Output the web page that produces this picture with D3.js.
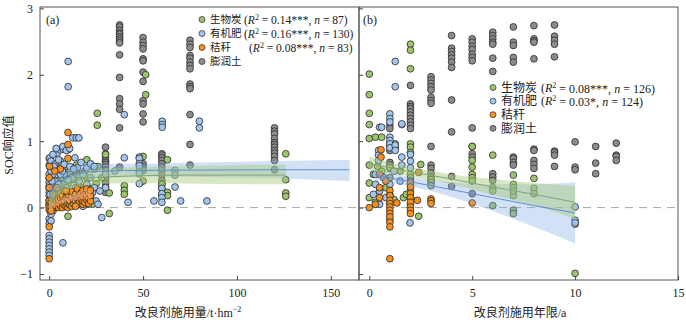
<!DOCTYPE html>
<html>
<head>
<meta charset="utf-8">
<script src="https://cdn.jsdelivr.net/npm/d3@7"></script>
<style>
  body { margin: 0; background: #fff; }
  svg text { font-family: "Liberation Serif", "Noto Sans CJK SC", serif; fill: #222; }
</style>
</head>
<body>
<div id="chart"></div>
<script>
// ---- data ----
const bentoniteA = [
  [30,0.91],[30,0.81],[30,0.76],[30,0.71],[30,0.68],[30,0.65],[30,0.61],[30,0.56],[30,0.49],[30,0.44],[30,0.41],[30,0.36],[30,0.31],[30,0.23],
  [37.5,2.75],[37.5,2.72],[37.5,2.67],[37.5,2.63],[37.5,2.61],[37.5,2.57],[37.5,2.54],[37.5,2.51],[37.5,2.48],[37.5,2.30],[37.5,1.96],[37.5,1.64],[37.5,1.56],[37.5,1.48],[37.5,1.20],[37.5,0.61],
  [50,2.56],[50,2.49],[50,2.44],[50,2.39],[50,2.24],[50,2.21],[50,2.04],[50,1.90],[50,1.61],[50,1.56],[50,1.41],[50,1.29],[50,0.66],[50,0.61],[50,0.56],
  [60,0.81],[60,0.79],[60,0.75],[60,0.71],[60,0.66],[60,0.61],[60,0.56],[60,0.49],[60,0.41],[60,0.36],[60,0.29],
  [75,2.52],[75,2.46],[75,2.41],[75,2.29],[75,2.25],[75,2.19],[75,2.14],[75,2.09],[75,1.86],[75,1.82],[75,1.79],[75,1.40],[75,0.95],[75,0.64],
  [120,1.20],[120,1.15],[120,1.11],[120,1.04],[120,0.98],[120,0.95],[120,0.91],[120,0.86],[120,0.82],[120,0.77],[120,0.71],[120,0.57]
];
const biocharA = [
  [25.6,1.42],[25.6,1.24],[51.4,2.0],[51.4,1.70],[30,0.80],[20,0.72],[50,0.77],[63,0.72],[126,0.81],[126,0.42],[126,0.22],[126,0.17],
  [40,0.33],[40,0.26],[40,0.20],[63,0.23],[63,0.18],[63,-0.04],[32,0.22],[32,-0.09],[25,0.36],[10,-0.13],[14.6,0.64],[14.6,0.55],
  [8.2,0.53],[20.2,0.44],[23,0.05],[60,0.35],[60,0.20],[48,0.55],[50,0.40],[0,0.05],[1,0.1],[2,0.25],[3,0.15],[5,0.3],[6,0.45],
  [8,0.2],[10,0.35],[12,0.1],[15,0.25],[18,0.3],[20,0.05],[22,0.15],[5,0.05],[9,0.62],[4,0.4],[7,0.35],[11,0.5],[13,0.42],
  [16,0.48],[17,0.12],[19,0.55],[21,0.3],[24,0.58],[2,0.0],[3,0.32],[26,0.62],[28,0.45]
];
const organicA = [
  [0,0.74],[0,0.64],[0,0.50],[0,0.44],[0,0.38],[0,0.33],[0,0.29],[0,0.23],[0,0.18],[0,0.11],[0,0.05],
  [0,-0.17],[0,-0.24],[0,-0.42],[0,-0.47],[0,-0.52],[0,-0.57],[0,-0.62],[0,-0.67],[0,-0.72],
  [0.4,0.75],[4.3,0.82],[5.7,0.87],[7.5,0.88],[10.1,0.87],[13.7,0.75],[3.7,0.89],[7.3,0.92],[9.1,0.86],[10.9,0.89],
  [12.6,1.05],[14.4,1.05],[15.8,1.05],[10.1,2.20],[10.1,1.82],[40,1.40],[80,1.30],[80,1.20],[60.2,1.30],[60.2,1.25],[60.2,1.21],
  [40,0.75],[48,0.76],[7.3,-0.53],[28,-0.15],[42,0.08],[20,0.60],[22,0.66],[24,0.62],[60,0.29],[60,0.21],[60,0.15],[60,0.08],
  [55.8,0.10],[67,0.31],[70,0.10],[84,0.10],[67,0.56],[67,0.49],[48,0.74],[48,0.66],[48,0.63],[48,0.51],[48,0.36],
  [1,0.3],[2,0.5],[2,0.2],[3,0.4],[4,0.6],[5,0.35],[6,0.7],[8,0.5],[9,0.3],[12,0.45],[14,0.3],[15,0.6],[16,0.4],[18,0.5],
  [20,0.35],[22,0.45],[24,0.3],[25,0.1],[26,0.05],[20,0.05],[18,0.02],[1,0.05],[2,-0.05],[3,0.0],[1,-0.2],[0.5,0.6],[1,0.7],
  [2,0.8],[30,0.5],[30,0.3],[1,0.55],[3,0.65],[5,0.72],[6,0.5],[8,0.65],[11,0.62],[13,0.58],[17,0.68],[19,0.2],[23,0.22],
  [4,0.25],[7,0.55],[10,0.42],[1.5,0.4],[2.5,0.62],[0.5,0.2],[1,-0.1],[0.5,-0.05],[35,0.55],[27,0.25]
];
const strawA = [
  [10,1.13],[10,0.95],[10,0.74],[0.2,0.62],[6,0.58],[0,-0.29],[0,-0.77],[0,-0.03],[0,0.02],[0,0.1],[0,0.45],[0,0.3],
  [1,0.02],[1,0.08],[2,0.0],[2,0.12],[3,0.05],[3,0.15],[4,0.02],[4,0.1],[4,0.2],[5,0.0],[5,0.06],[5,0.12],[6,0.03],[6,0.15],
  [6,0.22],[7,0.0],[7,0.08],[7,0.18],[8,0.04],[8,0.1],[8,0.25],[9,0.02],[9,0.14],[10,0.0],[10,0.06],[10,0.12],[10,0.2],
  [11,0.04],[11,0.1],[12,0.02],[12,0.16],[12,0.24],[13,0.06],[13,0.12],[14,0.1],[14,0.2],[15,0.04],[15,0.14],[15,0.28],
  [16,0.08],[16,0.18],[17,0.12],[17,0.22],[18,0.05],[18,0.1],[18,0.16],[18,0.26],[19,0.08],[19,0.2],[20,0.12],[20,0.18],
  [20,0.28],[21,0.06],[21,0.14],[21,0.22],[22,0.1],[22,0.18],[22,0.26],[3,0.55],[1,-0.05],[2,0.2],[4,0.3],[9,0.25],[14,0.02]
];

const bentoniteB = [
  [1,1.24],[1,1.19],[1,0.96],[1,0.91],[1,0.86],[1,0.68],[1,0.64],[1,0.59],
  [2,1.84],[2,1.56],[2,1.52],[2,1.49],[2,1.44],[2,1.39],[2,1.34],[2,1.29],[2,1.24],[2,1.19],
  [3,1.97],[3,1.92],[3,1.87],[3,1.82],[3,1.77],[3,1.66],[3,1.61],[3,1.57],[3,0.92],[3,0.64],[3,0.59],[3,0.52],[3,0.46],
  [4,2.59],[4,2.40],[4,2.35],[4,2.30],[4,2.25],[4,2.19],[4,2.11],[4,1.62],[4,1.14],[4,0.47],[4,0.32],
  [5,2.54],[5,2.49],[5,2.43],[5,2.38],[5,2.31],[5,2.26],[5,2.21],[5,1.20],[5,0.92],[5,0.81],[5,0.76],[5,0.21],
  [6,2.64],[6,2.59],[6,2.54],[6,2.49],[6,2.46],[6,2.25],[6,2.05],[6,0.51],[6,0.46],[6,0.41],
  [7,2.72],[7,2.49],[7,2.44],[7,2.26],[7,2.19],[7,0.76],[7,0.74],[7,0.68],[7,0.64],
  [8,2.74],[8,2.54],[8,2.51],[8,2.49],[8,2.24],[8,0.88],[8,0.86],[8,0.71],[8,0.65],[8,0.59],
  [9,2.75],[9,2.58],[9,2.52],[9,2.46],[9,2.27],[9,0.85],[9,0.83],[9,0.79],[9,0.62],
  [10,0.99],[10,0.61],[10,0.57],[11,0.92],[11,0.67],[11,0.51],[12,0.97],[12,0.79],[12,0.77],[12,0.71]
];
const biocharB = [
  [0,2.01],[0,1.70],[0,1.42],[0,1.25],[0,1.04],[0,0.64],[0,0.37],[0,0.15],[0.3,1.06],[0.6,1.06],[0.6,0.55],
  [2,2.46],[2,2.37],[2,2.09],[2,0.96],[2,0.91],[2,0.83],[2,0.50],[2,0.45],[2,0.35],[2,0.15],[2.4,-0.13],[1.66,0.15],[1.8,0.2],
  [3,0.42],[3,0.38],[3,0.33],[5,0.92],[5,0.71],[5,0.61],[5,0.50],[5,0.45],[5,0.40],[6,0.79],[6,0.03],[6,0.30],[6,0.25],
  [7,0.49],[7,0.18],[7,-0.04],[7,-0.09],[7,0.35],[7,0.30],[7,0.25],[8,0.44],[8,0.29],[8,0.21],[10,-0.99],[10,-0.25],
  [1,0.60],[1,0.45],[0.2,0.50],[0.4,0.62],[0.8,0.30],[1.5,0.55],[2.5,0.65],[1.2,0.12],[0.3,0.08]
];
const organicB = [
  [1.26,2.20],[1.26,1.82],[1.58,1.25],[1.26,0.96],[1.26,0.91],[1.58,0.76],[1,1.41],[1,1.34],[1,1.29],[1,1.06],[1,1.01],
  [0.5,1.21],[0.6,1.21],[1.58,1.26],[0.45,0.86],[0.45,0.79],[0.45,0.71],[1,0.96],[1,0.90],[1.26,0.94],[1.26,0.86],[1.58,0.64],
  [10,0.01],[10,-0.19],[10,-0.23],[1.98,-0.23],[2,0.80],[2,0.60],[2,0.40],[2,0.25],[0.3,0.50],[0.3,0.35],[0.5,0.25],
  [0.7,0.45],[0.8,0.15],[1,0.35],[1,0.20],[1,0.05],[1.2,0.55],[1.5,0.40],[0.2,0.20],[0.5,0.05],[1,-0.18],[2,0.70],[2,0.05]
];
const strawB = [
  [1,0.26],[1,0.18],[1,0.11],[1,0.06],[1,0.01],[1,-0.04],[1,-0.09],[1,-0.14],[1,-0.22],[1,-0.29],[1,-0.77],
  [2,0.38],[2,0.31],[2,0.21],[2,0.15],[2,0.08],[2,0.01],[2,-0.04],[2,-0.09],[3,0.13],[3,0.10],[3,0.06],
  [0,0.0],[0.57,0.87],[0.57,0.76],[1.34,0.07],[2.34,0.11],[2.4,0.53],[5,0.07],[0.5,0.50],[0.5,0.30],[0.5,0.15],[0.3,0.05],[0.8,0.40]
];

// fitted curves: [x, fit, lower, upper]
const biocharFitA = [[0,0.06,-0.05,0.2],[2,0.15,0.05,0.28],[5,0.25,0.15,0.36],[10,0.36,0.26,0.46],[15,0.41,0.31,0.52],[20,0.44,0.34,0.56],[30,0.46,0.36,0.59],[50,0.48,0.37,0.61],[80,0.49,0.36,0.63],[126,0.49,0.35,0.65]];
const organicFitA = [[0,0.12,0.0,0.32],[2,0.22,0.08,0.38],[5,0.33,0.22,0.46],[10,0.45,0.34,0.58],[15,0.50,0.40,0.63],[20,0.53,0.43,0.65],[30,0.55,0.46,0.66],[50,0.56,0.47,0.66],[80,0.565,0.46,0.68],[120,0.57,0.44,0.70],[160,0.57,0.40,0.72]];
const strawFitA = [[0,0.0,-0.06,0.06],[3,0.05,0.0,0.10],[6,0.09,0.05,0.14],[10,0.13,0.09,0.18],[15,0.17,0.12,0.23],[20,0.20,0.13,0.28],[22,0.21,0.13,0.30]];
const biocharFitB = [[0,0.66,0.55,0.77],[2,0.54,0.47,0.61],[4,0.43,0.35,0.50],[6,0.31,0.19,0.43],[8,0.20,0.03,0.37],[10,0.08,-0.17,0.33]];
const organicFitB = [[0.3,0.49,0.40,0.58],[2,0.39,0.32,0.46],[4,0.27,0.16,0.38],[6,0.15,-0.05,0.35],[8,0.03,-0.29,0.35],[10,-0.08,-0.54,0.38]];

const xTicksA = [0, 50, 100, 150];
const xTicksB = [0, 5, 10, 15];
const yTicks = [-1, 0, 1, 2, 3];

const legendNames = ["生物炭", "有机肥", "秸秆", "膨润土"];
const legendStatsA = [["0.14***", "87"], ["0.16***", "130"], ["0.08***", "83"], null];
const legendStatsB = [["0.08***", "126"], ["0.03*", "124"], null, null];

// ---- drawing ----
const colors = { biochar: "#9cc46a", organic: "#a3c6ee", straw: "#f7901e", bentonite: "#8c8c8c" };
const legendColors = [colors.biochar, colors.organic, colors.straw, colors.bentonite];

const W = 686, H = 323;
const svg = d3.select("#chart").append("svg").attr("width", W).attr("height", H);

const y = d3.scaleLinear().domain([-1.09, 3.02]).range([280, 7]);
const xA = d3.scaleLinear().domain([-4.9, 165]).range([40, 359]);
const xB = d3.scaleLinear().domain([-0.5, 15]).range([359, 678]);

function clipFor(id, x) {
  svg.append("clipPath").attr("id", id).append("rect")
    .attr("x", x.range()[0]).attr("y", 7)
    .attr("width", x.range()[1] - x.range()[0]).attr("height", 273);
}
clipFor("clipA", xA);
clipFor("clipB", xB);

function drawPanel(x, clipId, groups, fits, ticks, showYLabels) {
  const g = svg.append("g").attr("clip-path", `url(#${clipId})`);

  // zero reference line
  g.append("line")
    .attr("x1", x.range()[0]).attr("x2", x.range()[1])
    .attr("y1", y(0)).attr("y2", y(0))
    .attr("stroke", "#a6a6a6").attr("stroke-width", 1).attr("stroke-dasharray", "8,6");

  groups.forEach(([pts, col]) => {
    g.append("g").selectAll("circle").data(pts).join("circle")
      .attr("cx", d => x(d[0])).attr("cy", d => y(d[1])).attr("r", 3.4)
      .attr("fill", col).attr("stroke", "#2b2b2b").attr("stroke-width", 0.8);
  });

  const area = d3.area().x(d => x(d[0])).y0(d => y(d[2])).y1(d => y(d[3])).curve(d3.curveMonotoneX);
  const line = d3.line().x(d => x(d[0])).y(d => y(d[1])).curve(d3.curveMonotoneX);
  fits.forEach(f => {
    g.append("path").datum(f.data).attr("d", area)
      .attr("fill", f.band).attr("fill-opacity", f.op).attr("stroke", "none");
  });
  fits.forEach(f => {
    g.append("path").datum(f.data).attr("d", line)
      .attr("fill", "none").attr("stroke", f.line).attr("stroke-width", 1);
  });

  // frame
  svg.append("rect")
    .attr("x", x.range()[0]).attr("y", 7)
    .attr("width", x.range()[1] - x.range()[0]).attr("height", 273)
    .attr("fill", "none").attr("stroke", "#555").attr("stroke-width", 1);

  const xAxis = svg.append("g").attr("transform", "translate(0,280)")
    .call(d3.axisBottom(x).tickValues(ticks).tickSize(-4).tickPadding(8).tickFormat(d3.format("d")));
  const yAxis = svg.append("g").attr("transform", `translate(${x.range()[0]},0)`)
    .call(d3.axisLeft(y).tickValues(yTicks).tickSize(-4).tickPadding(7)
      .tickFormat(showYLabels ? (d => d < 0 ? "\u2212" + Math.abs(d) : d) : () => ""));
  [xAxis, yAxis].forEach(a => {
    a.select(".domain").remove();
    a.selectAll(".tick line").attr("stroke", "#444");
    a.selectAll(".tick text").attr("font-size", 12).attr("font-family", "Liberation Serif").attr("fill", "#222");
  });
}

drawPanel(xA, "clipA",
  [[bentoniteA, colors.bentonite], [biocharA, colors.biochar], [organicA, colors.organic], [strawA, colors.straw]],
  [
    { data: strawFitA, band: "#f4b183", op: 0.45, line: "#e9a170" },
    { data: organicFitA, band: "#7ea8e2", op: 0.35, line: "#5d8fd6" },
    { data: biocharFitA, band: "#a7c97a", op: 0.45, line: "#7fa57a" }
  ], xTicksA, true);

drawPanel(xB, "clipB",
  [[bentoniteB, colors.bentonite], [biocharB, colors.biochar], [organicB, colors.organic], [strawB, colors.straw]],
  [
    { data: organicFitB, band: "#7ea8e2", op: 0.35, line: "#5d8fd6" },
    { data: biocharFitB, band: "#a7c97a", op: 0.45, line: "#7fa57a" }
  ], xTicksB, false);

// panel tags
svg.append("text").attr("x", 46).attr("y", 24).attr("font-size", 12).text("(a)");
svg.append("text").attr("x", 363).attr("y", 24).attr("font-size", 12).text("(b)");

// legends
function legend(x0, y0, dy, stats, statX, cjkSize, latinSize) {
  legendNames.forEach((name, i) => {
    const yy = y0 + i * dy;
    svg.append("circle").attr("cx", x0).attr("cy", yy).attr("r", 3)
      .attr("fill", legendColors[i]).attr("stroke", "#2b2b2b").attr("stroke-width", 0.7);
    svg.append("text").attr("x", x0 + 8).attr("y", yy).attr("dy", "0.35em")
      .attr("font-size", cjkSize).attr("font-family", "Noto Sans CJK SC").text(name);
    const s = stats[i];
    if (s) {
      const t = svg.append("text").attr("x", statX[i]).attr("y", yy).attr("dy", "0.35em").attr("font-size", latinSize);
      t.append("tspan").text("(");
      t.append("tspan").attr("font-style", "italic").text("R");
      t.append("tspan").attr("font-size", 8).attr("dy", "-0.5em").text("2");
      t.append("tspan").attr("dy", "0.4em").text(` = ${s[0]}, `);
      t.append("tspan").attr("font-style", "italic").text("n");
      t.append("tspan").text(` = ${s[1]})`);
    }
  });
}
legend(202, 19.5, 14, legendStatsA, [244, 244, 249], 10.5, 11.5);
legend(493, 87.5, 13.6, legendStatsB, [541, 541], 12, 12);

// axis titles
svg.append("text")
  .attr("transform", "translate(13,145) rotate(-90)")
  .attr("text-anchor", "middle").attr("font-size", 12)
  .text("SOC响应值");

const tA = svg.append("text").attr("x", 188).attr("y", 317).attr("text-anchor", "middle").attr("font-size", 12);
tA.append("tspan").text("改良剂施用量/t·hm");
tA.append("tspan").attr("font-size", 8).attr("dy", "-0.6em").text("−2");

svg.append("text").attr("x", 520).attr("y", 317).attr("text-anchor", "middle").attr("font-size", 12)
  .text("改良剂施用年限/a");
</script>
</body>
</html>
